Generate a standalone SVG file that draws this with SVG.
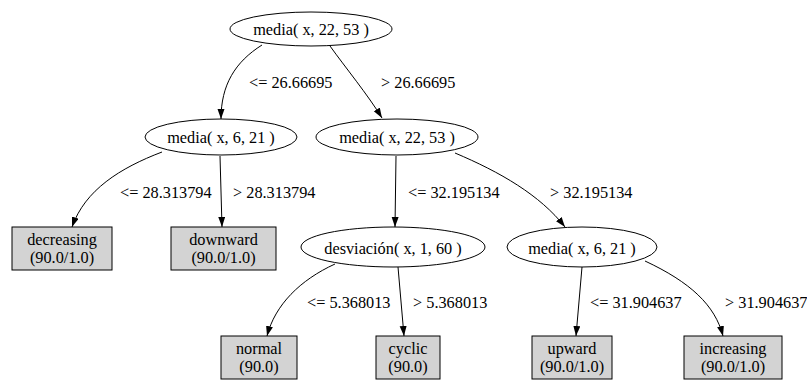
<svg xmlns="http://www.w3.org/2000/svg" width="807" height="381" viewBox="0 0 807 381">
<style>
text{font-family:'Liberation Serif','Times New Roman',serif;font-size:16.3px;fill:#000}
.n ellipse{fill:#fff;stroke:#000;stroke-width:1}
.l rect{fill:#d3d3d3;stroke:#000;stroke-width:1}
.n text,.l text{text-anchor:middle}
.e path{fill:none;stroke:#000;stroke-width:1;marker-end:url(#ah)}
.lab{text-anchor:start}
</style>
<defs>
<marker id="ah" markerUnits="userSpaceOnUse" markerWidth="10" markerHeight="8" refX="10" refY="3.5" orient="auto">
<path d="M0,0 L10,3.5 L0,7 z" fill="#000"/>
</marker>
</defs>
<rect width="807" height="381" fill="#fff"/>
<g id="edges" class="e">
<path d="M262,45 C235,62 221,85 221,119"/>
<path d="M330,46 C345,67 368,95 382,118"/>
<path d="M162,152 C120,168 85,190 72,227"/>
<path d="M220,156 L222,227"/>
<path d="M396,156 L395,227"/>
<path d="M455,153 C500,172 540,195 565,227"/>
<path d="M335,264 C300,280 275,305 267,336"/>
<path d="M398,267 L404,336"/>
<path d="M582,267 L576,336"/>
<path d="M645,261 C690,282 715,305 723,336"/>
</g>
<g id="edge-labels">
<text class="lab" x="249" y="88">&lt;= 26.66695</text>
<text class="lab" x="381" y="88">&gt; 26.66695</text>
<text class="lab" x="120" y="198">&lt;= 28.313794</text>
<text class="lab" x="233" y="198">&gt; 28.313794</text>
<text class="lab" x="408" y="198">&lt;= 32.195134</text>
<text class="lab" x="550" y="198">&gt; 32.195134</text>
<text class="lab" x="307" y="308">&lt;= 5.368013</text>
<text class="lab" x="413" y="308">&gt; 5.368013</text>
<text class="lab" x="590" y="308">&lt;= 31.904637</text>
<text class="lab" x="725" y="308">&gt; 31.904637</text>
</g>
<g id="n0" class="n"><ellipse cx="311" cy="29" rx="81" ry="17"/><text x="311" y="35">media( x, 22, 53 )</text></g>
<g id="n1" class="n"><ellipse cx="221" cy="137" rx="76" ry="18"/><text x="221" y="143">media( x, 6, 21 )</text></g>
<g id="n2" class="n"><ellipse cx="397" cy="137" rx="81" ry="18"/><text x="397" y="143">media( x, 22, 53 )</text></g>
<g id="n3" class="n"><ellipse cx="393" cy="247" rx="92" ry="20"/><text x="393" y="254">desviación( x, 1, 60 )</text></g>
<g id="n4" class="n"><ellipse cx="582" cy="247" rx="75" ry="20"/><text x="582" y="254">media( x, 6, 21 )</text></g>
<g id="l0" class="l"><rect x="12" y="227" width="100" height="43"/><text x="62" y="245">decreasing</text><text x="62" y="263">(90.0/1.0)</text></g>
<g id="l1" class="l"><rect x="171" y="227" width="105" height="43"/><text x="223.5" y="245">downward</text><text x="223.5" y="263">(90.0/1.0)</text></g>
<g id="l2" class="l"><rect x="221" y="336" width="76" height="43"/><text x="259" y="354">normal</text><text x="259" y="372">(90.0)</text></g>
<g id="l3" class="l"><rect x="376" y="336" width="64" height="43"/><text x="408" y="354">cyclic</text><text x="408" y="372">(90.0)</text></g>
<g id="l4" class="l"><rect x="532" y="336" width="80" height="43"/><text x="572" y="354">upward</text><text x="572" y="372">(90.0/1.0)</text></g>
<g id="l5" class="l"><rect x="684" y="336" width="98" height="43"/><text x="733" y="354">increasing</text><text x="733" y="372">(90.0/1.0)</text></g>
</svg>
